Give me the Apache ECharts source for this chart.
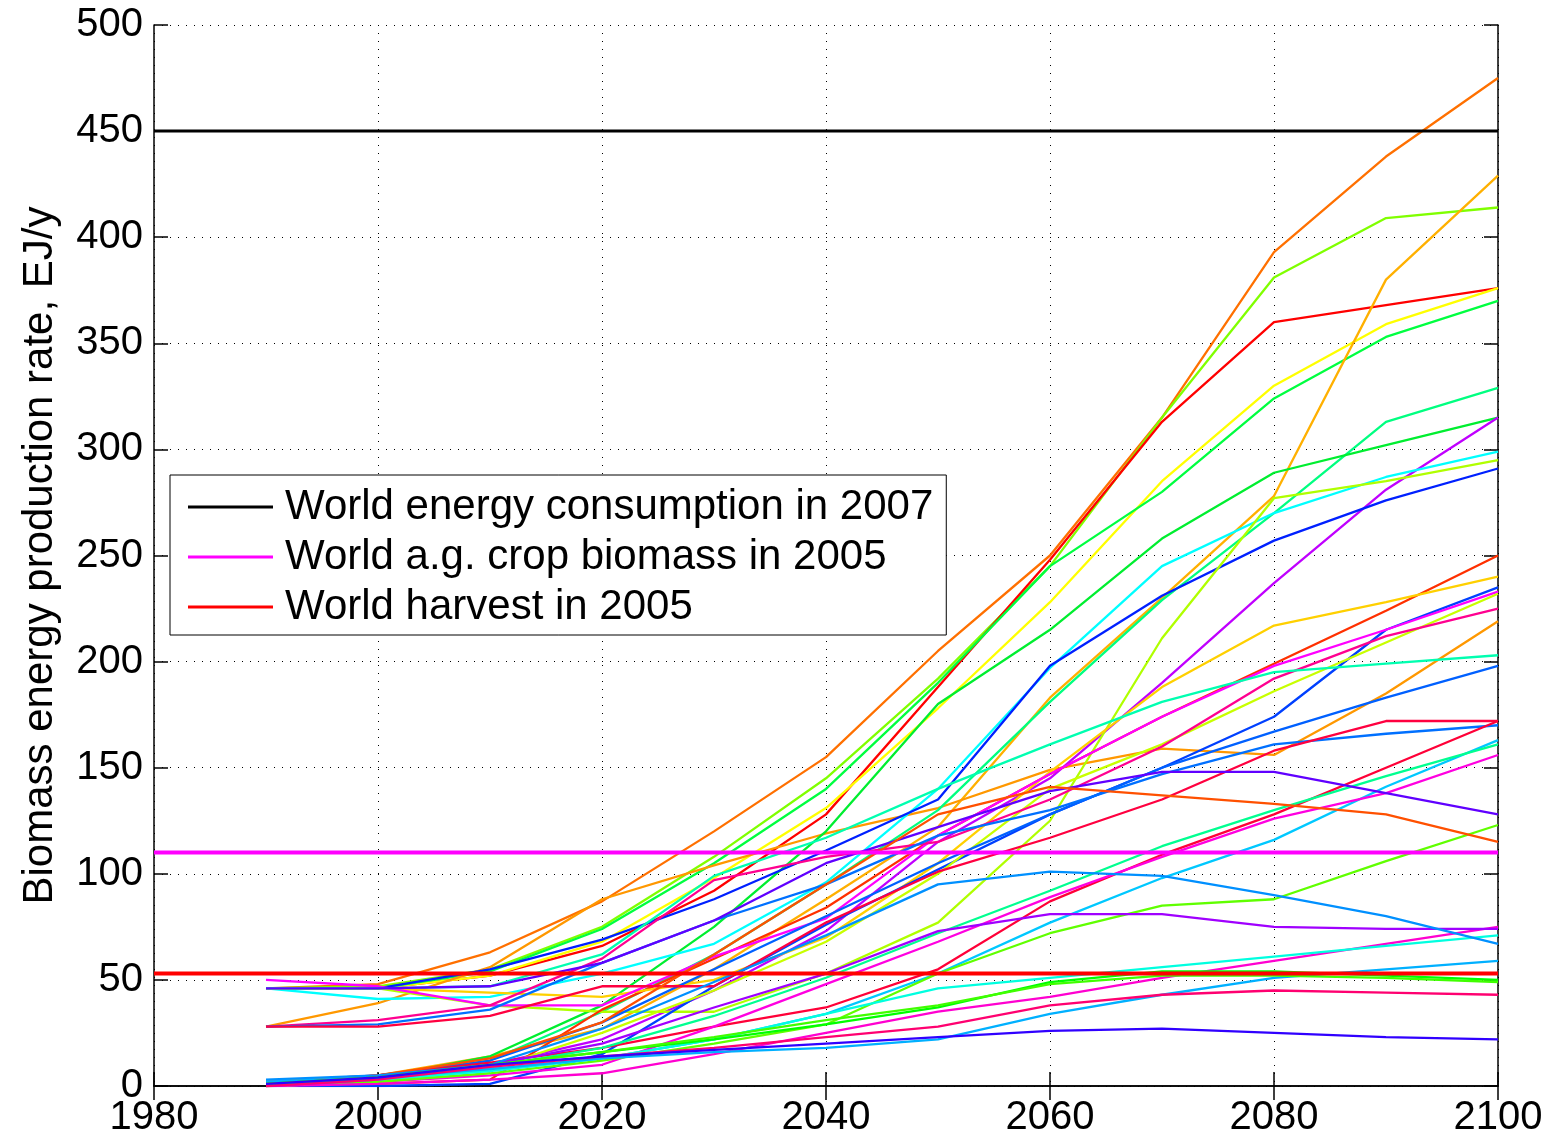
<!DOCTYPE html>
<html>
<head>
<meta charset="utf-8">
<script src="https://cdn.jsdelivr.net/npm/echarts@6/dist/echarts.min.js"></script>
<style>
  html, body { margin: 0; padding: 0; background: #fff; }
  #chart { width: 1553px; height: 1140px; }
</style>
</head>
<body>
<div id="chart"></div>
<script>
// Scenario years (one value per decade)
const years = [1990, 2000, 2010, 2020, 2030, 2040, 2050, 2060, 2070, 2080, 2090, 2100];

// Biomass energy production per scenario, EJ/y
const s01 = [46, 48, 63, 87, 120, 155, 205, 250, 315, 393, 438, 475];
const s02 = [46, 47, 55, 75, 108, 145, 192, 245, 315, 381, 409, 414];
const s03 = [46, 46, 52, 66, 92, 128, 188, 248, 313, 360, 368, 376];
const s04 = [46, 46, 52, 68, 98, 131, 178, 228, 285, 330, 359, 376];
const s05 = [46, 46, 54, 74, 105, 140, 190, 245, 280, 324, 353, 370];
const s06 = [0, 5, 14, 27, 55, 88, 122, 183, 230, 278, 380, 429];
const s07 = [28, 39, 56, 88, 104, 119, 131, 149, 159, 156, 185, 219];
const s08 = [1, 4, 12, 35, 62, 95, 130, 181, 229, 270, 313, 329];
const s09 = [1, 4, 14, 38, 75, 120, 180, 215, 258, 289, 302, 315];
const s10 = [1, 3, 10, 22, 45, 73, 115, 145, 190, 237, 281, 315];
const s11 = [46, 41, 42, 53, 67, 96, 140, 197, 245, 270, 287, 299];
const s12 = [46, 46, 55, 69, 88, 111, 135, 198, 231, 257, 276, 291];
const s13 = [46, 46, 38, 35, 35, 53, 77, 125, 211, 277, 285, 295];
const s14 = [0, 1, 3, 36, 60, 84, 118, 147, 174, 199, 224, 250];
const s15 = [46, 46, 44, 42, 50, 70, 105, 148, 188, 217, 228, 240];
const s16 = [0, 0, 1, 15, 47, 76, 102, 128, 150, 174, 215, 235];
const s17 = [50, 47, 38, 38, 61, 79, 118, 147, 174, 198, 215, 233];
const s18 = [0, 2, 8, 25, 45, 68, 100, 140, 161, 186, 209, 232];
const s19 = [28, 31, 38, 60, 97, 108, 115, 135, 160, 192, 212, 225];
const s20 = [46, 46, 47, 62, 99, 117, 140, 161, 181, 195, 199, 203];
const s21 = [2, 5, 12, 30, 55, 80, 105, 128, 150, 167, 183, 198];
const s22 = [28, 29, 36, 58, 78, 95, 118, 130, 147, 161, 166, 170];
const s23 = [28, 28, 33, 47, 47, 77, 101, 117, 135, 158, 172, 172];
const s24 = [1, 5, 11, 18, 28, 37, 55, 87, 109, 128, 150, 172];
const s25 = [2, 4, 8, 13, 22, 34, 53, 77, 98, 116, 141, 163];
const s26 = [1, 4, 9, 18, 33, 51, 72, 92, 113, 130, 146, 161];
const s27 = [0, 2, 5, 10, 28, 48, 68, 89, 108, 126, 138, 156];
const s28 = [46, 46, 47, 58, 78, 105, 122, 139, 148, 148, 138, 128];
const s29 = [0, 2, 6, 12, 20, 29, 53, 72, 85, 88, 106, 123];
const s30 = [2, 5, 13, 30, 62, 95, 128, 141, 137, 133, 128, 115];
const s31 = [0, 1, 3, 6, 15, 25, 35, 42, 51, 59, 67, 75];
const s32 = [0, 3, 10, 20, 37, 53, 73, 81, 81, 75, 74, 74];
const s33 = [1, 3, 7, 13, 22, 34, 46, 51, 56, 61, 66, 71];
const s34 = [3, 5, 10, 27, 49, 71, 95, 101, 99, 90, 80, 67];
const s35 = [2, 4, 8, 13, 16, 18, 22, 34, 43, 51, 55, 59];
const s36 = [1, 4, 10, 16, 22, 29, 37, 49, 54, 54, 52, 50];
const s37 = [1, 4, 10, 16, 23, 31, 38, 48, 52, 52, 51, 49];
const s38 = [0, 3, 9, 14, 18, 23, 28, 38, 43, 45, 44, 43];
const s39 = [1, 4, 10, 14, 17, 20, 23, 26, 27, 25, 23, 22];

const scenarios = [s01, s02, s03, s04, s05, s06, s07, s08, s09, s10,
  s11, s12, s13, s14, s15, s16, s17, s18, s19, s20,
  s21, s22, s23, s24, s25, s26, s27, s28, s29, s30,
  s31, s32, s33, s34, s35, s36, s37, s38, s39];

const scenarioColors = [
  '#ff7000', '#80ff00', '#ff0000', '#ffff00', '#00ff40', '#ffb000', '#ff9800', '#00ff80', '#00ee30', '#c000ff',
  '#00ffff', '#0020ff', '#b0ff00', '#ff3000', '#ffd000', '#0040ff', '#ff00ff', '#c8ff00', '#ff0090', '#00ffb0',
  '#0060ff', '#0070ff', '#ff0040', '#ff0038', '#00c8ff', '#00ff90', '#ff00e0', '#6000ff', '#60ff00', '#ff5000',
  '#ff00d0', '#a000ff', '#00ffe0', '#0090ff', '#00b0ff', '#00ff00', '#40ff00', '#ff0070', '#3000ff'];

// Reference levels, EJ/y
const refNames = ['World energy consumption in 2007', 'World a.g. crop biomass in 2005', 'World harvest in 2005'];
const refLevels = [450, 110, 53];
const refColors = ['#000000', '#ff00ff', '#ff0000'];

// Axis ranges and ticks
const xTicks = [1980, 2000, 2020, 2040, 2060, 2080, 2100];
const yTicks = [0, 50, 100, 150, 200, 250, 300, 350, 400, 450, 500];

const FONT = '"Liberation Sans", Arial, Helvetica, sans-serif';

const chart = echarts.init(document.getElementById('chart'), null, { renderer: 'canvas' });

const series = scenarios.map((vals, i) => ({
  type: 'line',
  data: years.map((y, k) => [y, vals[k]]),
  showSymbol: false,
  symbol: 'none',
  lineStyle: { color: scenarioColors[i], width: 2.3 },
  itemStyle: { color: scenarioColors[i] },
  silent: true,
  z: 2
}));

refLevels.forEach((lvl, i) => {
  series.push({
    type: 'line',
    name: refNames[i],
    data: [[xTicks[0], lvl], [xTicks[xTicks.length - 1], lvl]],
    showSymbol: false,
    symbol: 'none',
    lineStyle: { color: refColors[i], width: i === 0 ? 3 : 4 },
    itemStyle: { color: refColors[i] },
    silent: true,
    z: 5
  });
});

const axisLine = { show: true, lineStyle: { color: '#000', width: 1.5 } };
const plain = v => String(v);

chart.setOption({
  animation: false,
  backgroundColor: '#fff',
  grid: { left: 154, right: 55, top: 25, bottom: 54, containLabel: false },
  legend: {
    data: refNames,
    orient: 'vertical',
    left: 170,
    top: 475,
    icon: 'rect',
    itemWidth: 85,
    itemHeight: 3,
    itemGap: 8,
    padding: [11, 13, 7, 18],
    backgroundColor: '#fff',
    borderColor: '#000',
    borderWidth: 1,
    textStyle: { fontFamily: FONT, fontSize: 42, color: '#000', padding: [0, 0, 0, 7] }
  },
  xAxis: [{
    type: 'value',
    min: 1980, max: 2100, interval: 20,
    axisLine: axisLine,
    axisTick: { show: true, inside: true, length: 14, lineStyle: { color: '#000', width: 1.5 } },
    axisLabel: { fontFamily: FONT, fontSize: 40, color: '#000', margin: 12, formatter: plain },
    splitLine: { show: true, lineStyle: { color: '#000', type: [1, 7], width: 1 } }
  }, {
    type: 'value', position: 'top',
    min: 1980, max: 2100, interval: 20,
    axisLine: axisLine,
    axisTick: { show: true, inside: true, length: 14, lineStyle: { color: '#000', width: 1.5 } },
    axisLabel: { show: false },
    splitLine: { show: false }
  }],
  yAxis: [{
    type: 'value',
    min: 0, max: 500, interval: 50,
    name: 'Biomass energy production rate, EJ/y',
    nameLocation: 'middle',
    nameGap: 93,
    nameTextStyle: { fontFamily: FONT, fontSize: 42, color: '#000' },
    axisLine: axisLine,
    axisTick: { show: true, inside: true, length: 14, lineStyle: { color: '#000', width: 1.5 } },
    axisLabel: { fontFamily: FONT, fontSize: 40, color: '#000', margin: 11, formatter: plain },
    splitLine: { show: true, lineStyle: { color: '#000', type: [1, 7], width: 1 } }
  }, {
    type: 'value', position: 'right',
    min: 0, max: 500, interval: 50,
    axisLine: axisLine,
    axisTick: { show: true, inside: true, length: 14, lineStyle: { color: '#000', width: 1.5 } },
    axisLabel: { show: false },
    splitLine: { show: false }
  }],
  series: series
});
</script>
</body>
</html>
